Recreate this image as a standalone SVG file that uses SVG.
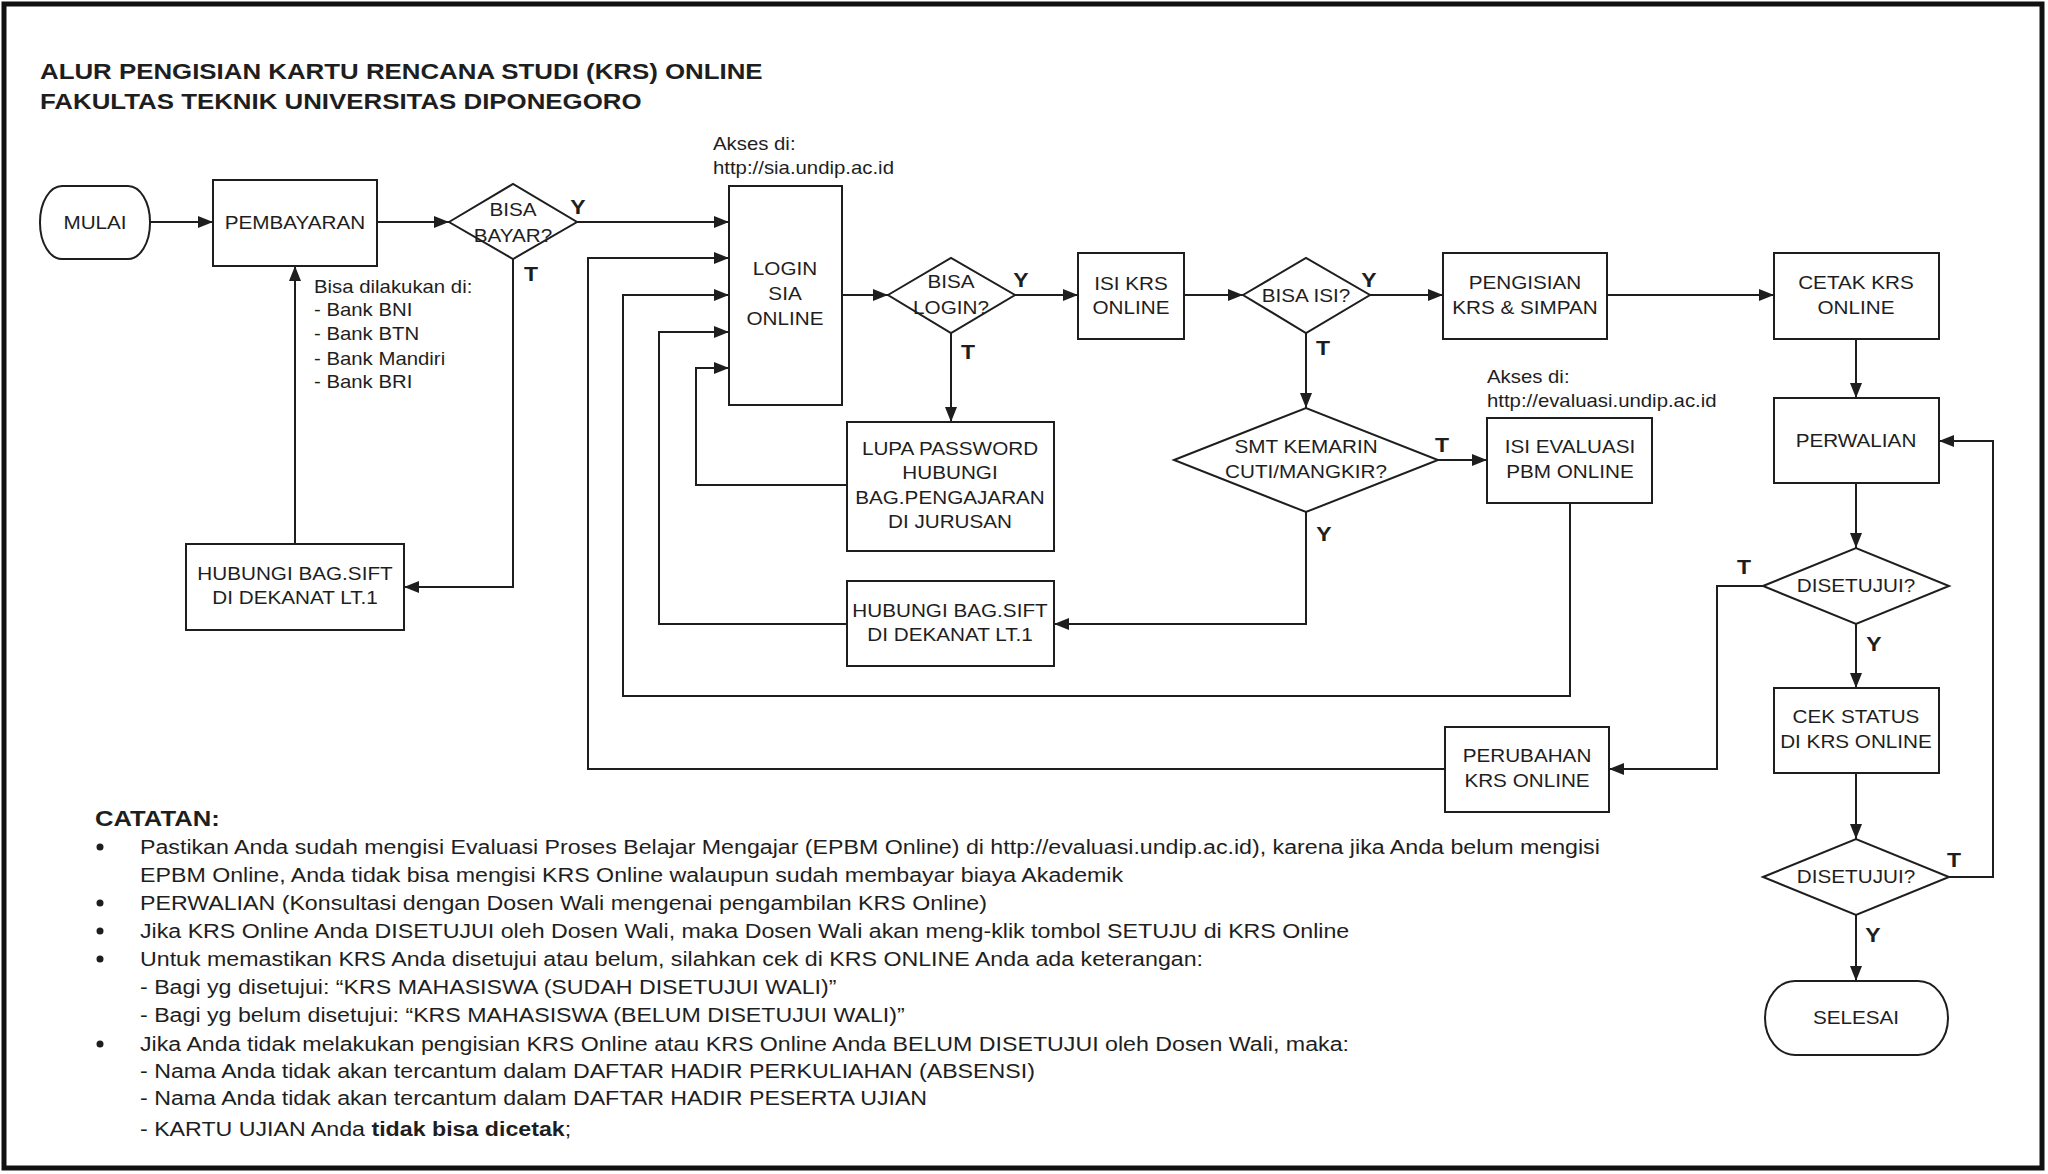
<svg xmlns="http://www.w3.org/2000/svg" width="2048" height="1174" viewBox="0 0 2048 1174">
<style>
text{font-family:"Liberation Sans",Arial,sans-serif;fill:#1e1e1e}
.n{font-size:18px;text-anchor:middle}
.a{font-size:17.7px}
.lbl{font-size:20px;font-weight:bold;text-anchor:middle}
.h{font-size:22.3px;font-weight:bold}
.note{font-size:20px}
.box{fill:#fff;stroke:#1e1e1e;stroke-width:2}
.c{fill:none;stroke:#1e1e1e;stroke-width:2}
</style>
<defs>
<marker id="ar" markerUnits="userSpaceOnUse" markerWidth="16" markerHeight="12" refX="15" refY="6" orient="auto">
<path d="M0,0 L15,6 L0,12 z" fill="#1e1e1e"/>
</marker>
</defs>
<rect x="0" y="0" width="2048" height="1174" fill="#fff"/>
<rect x="4" y="4" width="2038" height="1164" fill="none" stroke="#111" stroke-width="5"/>
<g id="title">
<text class="h" transform="translate(40,79) scale(1.16,1)">ALUR PENGISIAN KARTU RENCANA STUDI (KRS) ONLINE</text>
<text class="h" transform="translate(40,109) scale(1.16,1)">FAKULTAS TEKNIK UNIVERSITAS DIPONEGORO</text>
</g>
<g id="connectors">
<path class="c" marker-end="url(#ar)" d="M150,222 H213"/>
<path class="c" marker-end="url(#ar)" d="M377,222 H449"/>
<path class="c" marker-end="url(#ar)" d="M577,222 H729"/>
<path class="c" marker-end="url(#ar)" d="M513,259 V587 H404"/>
<path class="c" marker-end="url(#ar)" d="M295,544 V266"/>
<path class="c" marker-end="url(#ar)" d="M1445,769 H588 V258 H729"/>
<path class="c" marker-end="url(#ar)" d="M1570,503 V696 H623 V295 H729"/>
<path class="c" marker-end="url(#ar)" d="M847,624 H659 V332 H729"/>
<path class="c" marker-end="url(#ar)" d="M847,485 H696 V368 H729"/>
<path class="c" marker-end="url(#ar)" d="M842,295 H888"/>
<path class="c" marker-end="url(#ar)" d="M1015,295 H1078"/>
<path class="c" marker-end="url(#ar)" d="M951,333 V422"/>
<path class="c" marker-end="url(#ar)" d="M1184,295 H1243"/>
<path class="c" marker-end="url(#ar)" d="M1370,295 H1443"/>
<path class="c" marker-end="url(#ar)" d="M1306,333 V408"/>
<path class="c" marker-end="url(#ar)" d="M1438,460 H1487"/>
<path class="c" marker-end="url(#ar)" d="M1306,512 V624 H1054"/>
<path class="c" marker-end="url(#ar)" d="M1607,295 H1774"/>
<path class="c" marker-end="url(#ar)" d="M1856,339 V398"/>
<path class="c" marker-end="url(#ar)" d="M1856,483 V548"/>
<path class="c" marker-end="url(#ar)" d="M1763,586 H1717 V769 H1609"/>
<path class="c" marker-end="url(#ar)" d="M1856,624 V688"/>
<path class="c" marker-end="url(#ar)" d="M1856,773 V839"/>
<path class="c" marker-end="url(#ar)" d="M1949,877 H1993 V441 H1939"/>
<path class="c" marker-end="url(#ar)" d="M1856,915 V981"/>
</g>
<g id="labels">
<text class="lbl" transform="translate(578,214) scale(1.15,1)">Y</text>
<text class="lbl" transform="translate(531,281) scale(1.15,1)">T</text>
<text class="lbl" transform="translate(1021,287) scale(1.15,1)">Y</text>
<text class="lbl" transform="translate(968,359) scale(1.15,1)">T</text>
<text class="lbl" transform="translate(1369,287) scale(1.15,1)">Y</text>
<text class="lbl" transform="translate(1323,355) scale(1.15,1)">T</text>
<text class="lbl" transform="translate(1442,452) scale(1.15,1)">T</text>
<text class="lbl" transform="translate(1324,541) scale(1.15,1)">Y</text>
<text class="lbl" transform="translate(1744,574) scale(1.15,1)">T</text>
<text class="lbl" transform="translate(1874,651) scale(1.15,1)">Y</text>
<text class="lbl" transform="translate(1954,867) scale(1.15,1)">T</text>
<text class="lbl" transform="translate(1873,942) scale(1.15,1)">Y</text>
</g>
<g id="mulai">
<rect class="box" x="40" y="186" width="110" height="73" rx="22" ry="36"/>
<text class="n" transform="translate(95,229) scale(1.15,1)">MULAI</text>
</g>
<g id="pembayaran">
<rect class="box" x="213" y="180" width="164" height="86"/>
<text class="n" transform="translate(295,229) scale(1.15,1)">PEMBAYARAN</text>
</g>
<g id="bisa-bayar">
<polygon class="box" points="449,222 513,184 577,222 513,259"/>
<text class="n" transform="translate(513,216) scale(1.15,1)">BISA</text>
<text class="n" transform="translate(513,242) scale(1.15,1)">BAYAR?</text>
</g>
<g id="bank-note">
<text class="a" transform="translate(314,293) scale(1.15,1)">Bisa dilakukan di:</text>
<text class="a" transform="translate(314,316) scale(1.15,1)">- Bank BNI</text>
<text class="a" transform="translate(314,340) scale(1.15,1)">- Bank BTN</text>
<text class="a" transform="translate(314,365) scale(1.15,1)">- Bank Mandiri</text>
<text class="a" transform="translate(314,388) scale(1.15,1)">- Bank BRI</text>
</g>
<g id="hubungi-1">
<rect class="box" x="186" y="544" width="218" height="86"/>
<text class="n" transform="translate(295,580) scale(1.15,1)">HUBUNGI BAG.SIFT</text>
<text class="n" transform="translate(295,604) scale(1.15,1)">DI DEKANAT LT.1</text>
</g>
<g id="akses-sia">
<text class="a" transform="translate(713,150) scale(1.15,1)">Akses di:</text>
<text class="a" transform="translate(713,174) scale(1.15,1)">http://sia.undip.ac.id</text>
</g>
<g id="login">
<rect class="box" x="729" y="186" width="113" height="219"/>
<text class="n" transform="translate(785,275) scale(1.15,1)">LOGIN</text>
<text class="n" transform="translate(785,300) scale(1.15,1)">SIA</text>
<text class="n" transform="translate(785,325) scale(1.15,1)">ONLINE</text>
</g>
<g id="bisa-login">
<polygon class="box" points="888,295 951,258 1015,295 951,333"/>
<text class="n" transform="translate(951,288) scale(1.15,1)">BISA</text>
<text class="n" transform="translate(951,314) scale(1.15,1)">LOGIN?</text>
</g>
<g id="lupa-password">
<rect class="box" x="847" y="422" width="207" height="129"/>
<text class="n" transform="translate(950,455) scale(1.15,1)">LUPA PASSWORD</text>
<text class="n" transform="translate(950,479) scale(1.15,1)">HUBUNGI</text>
<text class="n" transform="translate(950,504) scale(1.15,1)">BAG.PENGAJARAN</text>
<text class="n" transform="translate(950,528) scale(1.15,1)">DI JURUSAN</text>
</g>
<g id="hubungi-2">
<rect class="box" x="847" y="581" width="207" height="85"/>
<text class="n" transform="translate(950,617) scale(1.15,1)">HUBUNGI BAG.SIFT</text>
<text class="n" transform="translate(950,641) scale(1.15,1)">DI DEKANAT LT.1</text>
</g>
<g id="isi-krs">
<rect class="box" x="1078" y="253" width="106" height="86"/>
<text class="n" transform="translate(1131,290) scale(1.15,1)">ISI KRS</text>
<text class="n" transform="translate(1131,314) scale(1.15,1)">ONLINE</text>
</g>
<g id="bisa-isi">
<polygon class="box" points="1243,295 1306,258 1370,295 1306,333"/>
<text class="n" transform="translate(1306,302) scale(1.15,1)">BISA ISI?</text>
</g>
<g id="smt-kemarin">
<polygon class="box" points="1174,460 1306,408 1438,460 1306,512"/>
<text class="n" transform="translate(1306,453) scale(1.15,1)">SMT KEMARIN</text>
<text class="n" transform="translate(1306,478) scale(1.15,1)">CUTI/MANGKIR?</text>
</g>
<g id="akses-evaluasi">
<text class="a" transform="translate(1487,383) scale(1.15,1)">Akses di:</text>
<text class="a" transform="translate(1487,407) scale(1.15,1)">http://evaluasi.undip.ac.id</text>
</g>
<g id="isi-evaluasi">
<rect class="box" x="1487" y="418" width="165" height="85"/>
<text class="n" transform="translate(1570,453) scale(1.15,1)">ISI EVALUASI</text>
<text class="n" transform="translate(1570,478) scale(1.15,1)">PBM ONLINE</text>
</g>
<g id="pengisian">
<rect class="box" x="1443" y="253" width="164" height="86"/>
<text class="n" transform="translate(1525,289) scale(1.15,1)">PENGISIAN</text>
<text class="n" transform="translate(1525,314) scale(1.15,1)">KRS &amp; SIMPAN</text>
</g>
<g id="cetak-krs">
<rect class="box" x="1774" y="253" width="165" height="86"/>
<text class="n" transform="translate(1856,289) scale(1.15,1)">CETAK KRS</text>
<text class="n" transform="translate(1856,314) scale(1.15,1)">ONLINE</text>
</g>
<g id="perwalian">
<rect class="box" x="1774" y="398" width="165" height="85"/>
<text class="n" transform="translate(1856,447) scale(1.15,1)">PERWALIAN</text>
</g>
<g id="disetujui-1">
<polygon class="box" points="1763,586 1856,548 1949,586 1856,624"/>
<text class="n" transform="translate(1856,592) scale(1.15,1)">DISETUJUI?</text>
</g>
<g id="perubahan">
<rect class="box" x="1445" y="727" width="164" height="85"/>
<text class="n" transform="translate(1527,762) scale(1.15,1)">PERUBAHAN</text>
<text class="n" transform="translate(1527,787) scale(1.15,1)">KRS ONLINE</text>
</g>
<g id="cek-status">
<rect class="box" x="1774" y="688" width="165" height="85"/>
<text class="n" transform="translate(1856,723) scale(1.15,1)">CEK STATUS</text>
<text class="n" transform="translate(1856,748) scale(1.15,1)">DI KRS ONLINE</text>
</g>
<g id="disetujui-2">
<polygon class="box" points="1763,877 1856,839 1949,877 1856,915"/>
<text class="n" transform="translate(1856,883) scale(1.15,1)">DISETUJUI?</text>
</g>
<g id="selesai">
<rect class="box" x="1765" y="981" width="183" height="74" rx="30" ry="37"/>
<text class="n" transform="translate(1856,1024) scale(1.15,1)">SELESAI</text>
</g>
<g id="catatan">
<text class="h" transform="translate(95,826) scale(1.15,1)">CATATAN:</text>
<circle cx="100" cy="847" r="3.5" fill="#1e1e1e"/>
<circle cx="100" cy="903" r="3.5" fill="#1e1e1e"/>
<circle cx="100" cy="931" r="3.5" fill="#1e1e1e"/>
<circle cx="100" cy="959" r="3.5" fill="#1e1e1e"/>
<circle cx="100" cy="1044" r="3.5" fill="#1e1e1e"/>
<text class="note" transform="translate(140,854) scale(1.16,1)">Pastikan Anda sudah mengisi Evaluasi Proses Belajar Mengajar (EPBM Online) di http://evaluasi.undip.ac.id), karena jika Anda belum mengisi</text>
<text class="note" transform="translate(140,882) scale(1.16,1)">EPBM Online, Anda tidak bisa mengisi KRS Online walaupun sudah membayar biaya Akademik</text>
<text class="note" transform="translate(140,910) scale(1.16,1)">PERWALIAN (Konsultasi dengan Dosen Wali mengenai pengambilan KRS Online)</text>
<text class="note" transform="translate(140,938) scale(1.16,1)">Jika KRS Online Anda DISETUJUI oleh Dosen Wali, maka Dosen Wali akan meng-klik tombol SETUJU di KRS Online</text>
<text class="note" transform="translate(140,966) scale(1.16,1)">Untuk memastikan KRS Anda disetujui atau belum, silahkan cek di KRS ONLINE Anda ada keterangan:</text>
<text class="note" transform="translate(140,994) scale(1.16,1)">- Bagi yg disetujui: “KRS MAHASISWA (SUDAH DISETUJUI WALI)”</text>
<text class="note" transform="translate(140,1022) scale(1.16,1)">- Bagi yg belum disetujui: “KRS MAHASISWA (BELUM DISETUJUI WALI)”</text>
<text class="note" transform="translate(140,1051) scale(1.16,1)">Jika Anda tidak melakukan pengisian KRS Online atau KRS Online Anda BELUM DISETUJUI oleh Dosen Wali, maka:</text>
<text class="note" transform="translate(140,1078) scale(1.16,1)">- Nama Anda tidak akan tercantum dalam DAFTAR HADIR PERKULIAHAN (ABSENSI)</text>
<text class="note" transform="translate(140,1105) scale(1.16,1)">- Nama Anda tidak akan tercantum dalam DAFTAR HADIR PESERTA UJIAN</text>
<text class="note" transform="translate(140,1136) scale(1.16,1)">- KARTU UJIAN Anda <tspan font-weight="bold">tidak bisa dicetak</tspan>;</text>
</g>
</svg>
